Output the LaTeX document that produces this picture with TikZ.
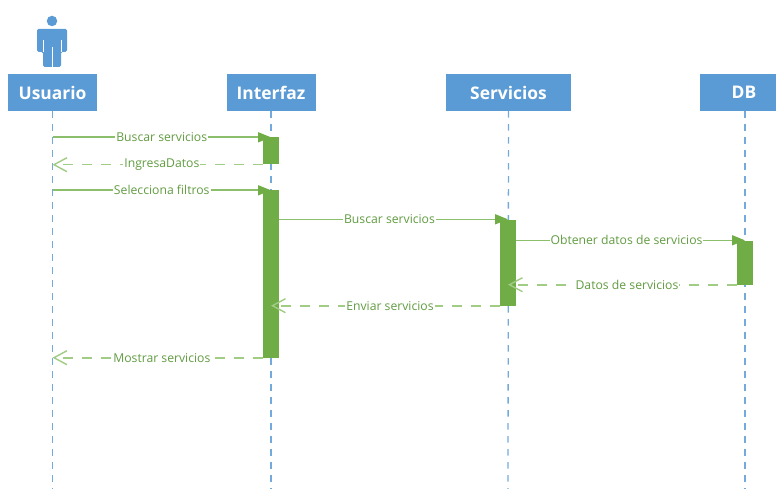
\documentclass[tikz,border=0pt]{standalone}
\usepackage{fontspec}
\setmainfont{Open Sans}
\usepackage{xcolor}
\usetikzlibrary{positioning}
\usetikzlibrary{arrows.meta}
\usetikzlibrary{backgrounds}
\definecolor{headblue}{HTML}{5B9BD5}
\definecolor{lineblue}{HTML}{74A9DC}
\definecolor{actgreen}{HTML}{70AD47}
\definecolor{msggreen}{HTML}{8CBF6C}
\definecolor{retgreen}{HTML}{A0CC84}
\definecolor{txtgreen}{HTML}{629C42}
\tikzstyle{head}=[rectangle, fill=headblue, text=white, inner sep=0pt,
        minimum width=89pt, minimum height=37pt,
        font=\bfseries\fontsize{17.4}{19}\selectfont]
\tikzstyle{lifeline}=[lineblue, line width=1.3pt, dash pattern=on 6.5pt off 6.5pt]
\tikzstyle{act}=[rectangle, fill=actgreen, inner sep=0pt, minimum width=16pt]
\tikzstyle{msg}=[msggreen, line width=1.6pt,
        -{Triangle[length=13pt,width=10pt,fill=actgreen,color=actgreen]}]
\tikzstyle{ret}=[retgreen, line width=1.6pt, dash pattern=on 10pt off 9pt,
        -{Straight Barb[length=13pt,width=14pt,line width=1.4pt]}]
\tikzstyle{msglabel}=[fill=white, inner xsep=1pt, inner ysep=1pt, text=txtgreen,
        font=\fontsize{12.2}{14}\selectfont]

\begin{document}
\begin{tikzpicture}[x=1pt, y=-1pt, node distance=218.5pt]
      \useasboundingbox (0,0) rectangle (776,489);
      % Place nodes
      \node [head] (usuario) at (52.5,92.5) {Usuario};
      \node [head, right of=usuario] (interfaz) {Interfaz};
      \node [head, right of=interfaz, node distance=237.5pt, minimum width=125pt] (servicios) {Servicios};
      \node [head, right of=servicios, node distance=229.5pt, minimum width=76pt] (db) {\hspace*{12pt}DB};
      \node [act, minimum height=27pt] (act1) at (271,151) {};
      \node [act, minimum height=167pt] (act2) at (271,274) {};
      \node [act, minimum height=86pt] (act3) at (508,262.5) {};
      \node [act, minimum height=44pt] (act4) at (745,262.5) {};
      \coordinate (fin) at (0,489);
      % Actor
      \node [circle, fill=headblue, minimum width=10.5pt, inner sep=0pt] (cabeza) at (52,21) {};
      \fill [headblue, rounded corners=1.5pt] (37,29) -- (67,29) -- (67,52) -- (61,52)
        -- (61,67) -- (43,67) -- (43,52) -- (37,52) -- cycle;
      \draw [white, line width=.6pt] (52,47) -- (52,68);
      \draw [white, line width=.6pt] (43,40) -- (43,52);
      \draw [white, line width=.6pt] (61,40) -- (61,52);
      % Draw edges
      \begin{pgfonlayer}{background}
        \draw [lifeline] (usuario.south) -- (usuario |- fin);
        \draw [lifeline] (interfaz.south) -- (act1 |- fin);
        \draw [lifeline] (servicios.south) -- (act3 |- fin);
        \draw [lifeline] (act4 |- db.south) -- (act4 |- fin);
        \draw [msg] (usuario |- act1.north) -- node [msglabel] {Buscar servicios} (act1.north);
        \draw [msg] (usuario |- act2.north) -- node [msglabel] {Selecciona filtros} (act2.north);
        \draw [msg] (act2 |- act3.north) -- node [msglabel] {Buscar servicios} (act3.north);
        \draw [msg] (act3 |- act4.north) -- node [msglabel] {Obtener datos de servicios} (act4.north);
      \end{pgfonlayer}
      \draw [ret] (act1.south west) -- node [msglabel, pos=.48] {IngresaDatos} (usuario |- act1.south);
      \draw [ret] (act4.south west) -- node [msglabel, pos=.48] {Datos de servicios} (act3 |- act4.south);
      \draw [ret] (act3.south west) -- node [msglabel, pos=.48] {Enviar servicios} (act2 |- act3.south);
      \draw [ret] (act2.south west) -- node [msglabel, pos=.48] {Mostrar servicios} (usuario |- act2.south);
\end{tikzpicture}
\end{document}
